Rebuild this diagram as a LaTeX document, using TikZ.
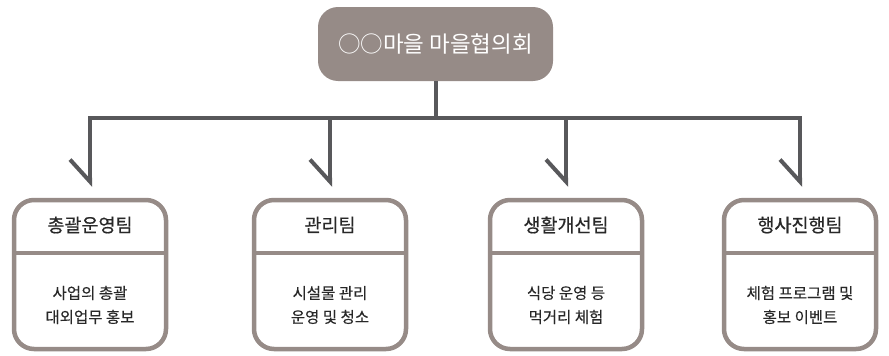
\documentclass[tikz,border=0pt]{standalone}
\usepackage{fontspec}
\setmainfont{Noto Sans CJK KR}
\newfontfamily\teamfont[FakeBold=0.6]{Noto Sans CJK KR}
\newfontfamily\bodyfont[FakeBold=0.3]{Noto Sans CJK KR}
\usetikzlibrary{arrows.meta}
\definecolor{boxgray}{RGB}{150,139,135}
\definecolor{linkgray}{RGB}{88,88,91}
\definecolor{textgray}{RGB}{40,40,40}
\begin{document}
\begin{tikzpicture}[x=1pt,y=-1pt,
    council/.style={fill=boxgray,rounded corners=20pt,minimum width=235pt,minimum height=74pt,
      text=white,font=\fontsize{22.5}{26}\selectfont},
    team/.style={draw=boxgray,line width=4.5pt,rounded corners=20pt,minimum width=152pt,minimum height=149pt},
    teamtitle/.style={text=textgray,font=\teamfont\fontsize{18.5}{22}\selectfont},
    teamtext/.style={text=textgray,align=center,font=\bodyfont\fontsize{15.5}{24}\selectfont},
    link/.style={draw=linkgray,line width=4pt,shorten >=11pt,
      -{Straight Barb[right,length=22pt,width=40pt,line cap=butt,line join=miter]}}]
  \useasboundingbox (0,0) rectangle (889,356);
  \node[council] (council) at (435.5,44) {○○마을 마을협의회};
  \foreach \x/\title/\lineA/\lineB [count=\i] in {90/총괄운영팀/사업의 총괄/대외업무 홍보,
      330/관리팀/시설물 관리/운영 및 청소,
      566/생활개선팀/식당 운영 등/먹거리 체험,
      800/행사진행팀/체험 프로그램 및/홍보 이벤트} {
    \node[team] (team\i) at (\x,274.5) {};
    \draw[boxgray,line width=4.5pt] (\x-76,253) -- ++(152,0);
    \node[teamtitle] (title\i) at (\x,225) {\title};
    \node[teamtext] (text\i) at (\x,305) {\lineA\\\lineB};
    \draw[link] (council.south) -- ++(0,37) -| (team\i.north);
  }
\end{tikzpicture}
\end{document}
